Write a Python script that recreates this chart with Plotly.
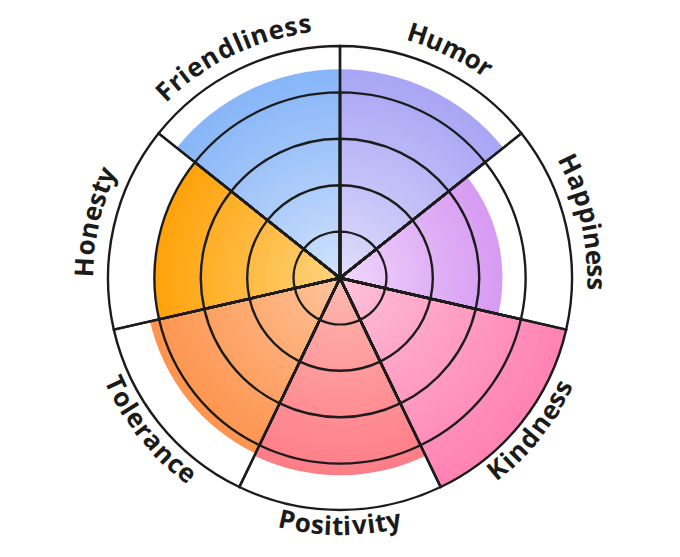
import math
import plotly.graph_objects as go

# ---------------- data ----------------
categories = ["Humor", "Happiness", "Kindness", "Positivity", "Tolerance", "Honesty", "Friendliness"]
values = [4.5, 3.5, 5.0, 4.25, 4.2, 4.0, 4.5]
ring_levels = [1, 2, 3, 4, 5]

# ---------------- style ----------------
outer_colors = ["#a9a6f5", "#d79bf3", "#ff83b3", "#fe7e88", "#fd9550", "#ffa30c", "#88b6f8"]
inner_colors = ["#e4e1fc", "#f2dbfb", "#fdc6dc", "#fdbdb4", "#fec7a0", "#fed887", "#d6e5fd"]

W, H = 680, 557
CX, CY, R5 = 340, 278, 232         # pixel centre (from top) and radius of the r=5 circle
RMAX = 5.06                        # a little headroom so the outer ring is not clipped
R = R5 * RMAX / 5
N_STEPS = 40
ROT = 90 - 180 / len(categories)   # first sector boundary at 12 o'clock
FS = 26


def hex2rgb(h):
    h = h.lstrip("#")
    return [int(h[i:i + 2], 16) for i in (0, 2, 4)]


def mix(c1, c2, t):
    a, b = hex2rgb(c1), hex2rgb(c2)
    return "rgb(%d,%d,%d)" % tuple(round(a[i] + (b[i] - a[i]) * t) for i in range(3))


fig = go.Figure()

# gradient bars: overlapping bars from outermost (saturated) to innermost (pale)
for k in range(N_STEPS, 0, -1):
    t = k / N_STEPS
    fig.add_trace(go.Barpolar(
        r=[v * t for v in values],
        theta=categories,
        marker=dict(color=[mix(inner_colors[i], outer_colors[i], t ** 0.85) for i in range(len(values))],
                    line=dict(width=0)),
        hoverinfo="skip", showlegend=False,
    ))

# ring / spoke outlines drawn above the bars
for lvl in ring_levels:
    fig.add_trace(go.Barpolar(
        r=[lvl] * len(categories),
        theta=categories,
        marker=dict(color="rgba(0,0,0,0)", line=dict(color="#1c1c1c", width=2.4)),
        hoverinfo="skip", showlegend=False,
    ))

# ---------------- curved labels ----------------
CW = {
    "F": .577, "H": .784, "K": .682, "P": .622, "T": .582,
    "a": .60, "c": .49, "d": .657, "e": .59, "i": .305, "l": .305, "m": .98,
    "n": .657, "o": .632, "p": .657, "r": .451, "s": .489, "t": .416,
    "u": .657, "v": .59, "y": .59,
}
SPACING = {"Friendliness": 1.1, "Honesty": 1.06, "Happiness": 1.04}

annotations = []
step = 360 / len(categories)
for i, cat in enumerate(categories):
    center = ROT - i * step
    upper = math.sin(math.radians(center)) > 0
    rc = 257 if upper else 247
    k = SPACING.get(cat, 1.02)
    widths = [CW.get(ch, .6) * FS * k for ch in cat]
    total = sum(widths)
    s = -total / 2
    for ch, w in zip(cat, widths):
        pos = s + w / 2
        s += w
        dtheta = math.degrees(pos / rc)
        if upper:
            th = center - dtheta
            ang = 90 - th
        else:
            th = center + dtheta
            ang = -90 - th
        x = CX + rc * math.cos(math.radians(th))
        y = CY - rc * math.sin(math.radians(th))
        annotations.append(dict(
            x=x / W, y=1 - y / H, xref="paper", yref="paper",
            text=ch, showarrow=False, textangle=ang,
            xanchor="center", yanchor="middle",
            font=dict(family="Open Sans", size=FS, color="#1b1b1b", weight=700),
        ))

fig.update_layout(
    width=W, height=H,
    margin=dict(l=0, r=0, t=0, b=0),
    paper_bgcolor="white",
    showlegend=False,
    annotations=annotations,
    polar=dict(
        domain=dict(x=[(CX - R) / W, (CX + R) / W], y=[(H - CY - R) / H, (H - CY + R) / H]),
        bgcolor="white",
        bargap=0,
        barmode="overlay",
        radialaxis=dict(range=[0, RMAX], visible=False),
        angularaxis=dict(type="category", categoryarray=categories, direction="clockwise",
                         rotation=ROT, showticklabels=False, showgrid=False,
                         showline=False, ticks=""),
    ),
)

fig.write_html("out.html", config={"displayModeBar": False},
               post_script="document.body.style.margin='0';")
